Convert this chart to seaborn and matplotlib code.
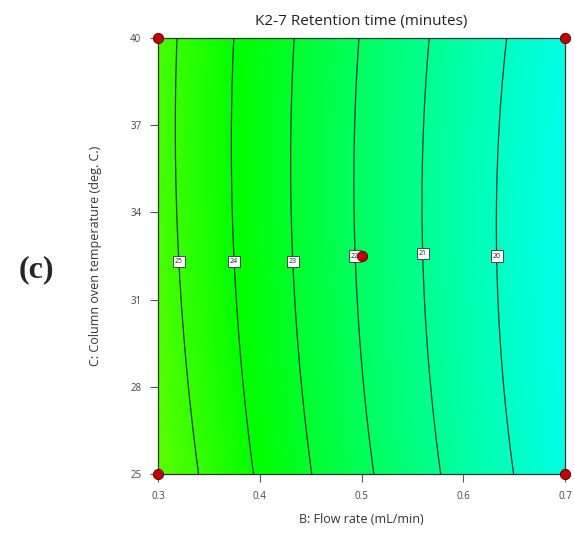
import numpy as np
import pandas as pd
import matplotlib
matplotlib.use("Agg")
import matplotlib.pyplot as plt
from matplotlib.colors import LinearSegmentedColormap, hsv_to_rgb
import seaborn as sns

# Contour levels of retention time (minutes) and where each level crosses
# the flow-rate axis at three column oven temperatures.
levels = [25, 24, 23, 22, 21, 20]
temps_read = [25.0, 32.3, 40.0]
flow_at_25C = [0.3393, 0.3943, 0.4513, 0.5123, 0.5781, 0.6489]
flow_at_32C = [0.3206, 0.3747, 0.4327, 0.4936, 0.5604, 0.6332]
flow_at_40C = [0.3187, 0.3747, 0.4346, 0.4956, 0.5673, 0.6430]

# Design points (factorial corners and centre point)
design_flow = [0.3, 0.7, 0.3, 0.7, 0.5]
design_temp = [40, 40, 25, 25, 32.5]

# Contour label anchor positions (flow, temperature)
label_flow = [0.3206, 0.3747, 0.4327, 0.4936, 0.5604, 0.6332]
label_temp = [32.3, 32.3, 32.3, 32.5, 32.6, 32.5]

x_ticks = [0.3, 0.4, 0.5, 0.6, 0.7]
y_ticks = [25, 28, 31, 34, 37, 40]

# Quadratic response-surface model fitted to the level crossings
B = np.concatenate([flow_at_25C, flow_at_32C, flow_at_40C])
C = np.repeat(temps_read, len(levels))
Y = np.tile(levels, len(temps_read)).astype(float)
def terms(b, c):
    return np.stack([np.ones_like(b), b, c, b * c, b ** 2, c ** 2], axis=-1)
coef, *_ = np.linalg.lstsq(terms(B, C), Y, rcond=None)

bg = np.linspace(0.3, 0.7, 300)
cg = np.linspace(25, 40, 300)
BB, CC = np.meshgrid(bg, cg)
RT = terms(BB, CC) @ coef

# Hue ramp from yellow-green (long retention) to cyan (short retention)
hues = np.linspace(174, 100, 64) / 360.0
cols = hsv_to_rgb(np.stack([hues, np.ones_like(hues), np.ones_like(hues)], axis=1))
cmap = LinearSegmentedColormap.from_list("rt", cols)

sns.set_style("white")
plt.rcParams["font.family"] = ["Open Sans", "DejaVu Sans"]

fig = plt.figure(figsize=(5.74, 5.4), dpi=100)
ax = fig.add_axes([158 / 574, 1 - 474 / 540, 407 / 574, 436 / 540])

ax.pcolormesh(BB, CC, RT, cmap=cmap, vmin=19.3, vmax=25.6, shading="gouraud",
              rasterized=True)
cs = ax.contour(BB, CC, RT, levels=sorted(levels), colors="#1f3d2a",
                linewidths=0.9)
for lv, lb, lt in zip(levels, label_flow, label_temp):
    ax.text(lb, lt, f"{lv}", fontsize=5, ha="center", va="center",
            color="#222222", zorder=5,
            bbox=dict(facecolor="white", edgecolor="#333333", linewidth=0.6,
                      boxstyle="square,pad=0.3"))

pts = pd.DataFrame({"flow": design_flow, "temp": design_temp})
sns.scatterplot(data=pts, x="flow", y="temp", ax=ax, color="#c00000",
                edgecolor="#5a0000", linewidth=0.6, s=55, zorder=10,
                clip_on=False)

ax.set_xlim(0.3, 0.7)
ax.set_ylim(25, 40)
ax.set_xticks(x_ticks)
ax.set_xticklabels([f"{t:.1f}" for t in x_ticks])
ax.set_yticks(y_ticks)
ax.set_yticklabels([str(t) for t in y_ticks])
ax.tick_params(axis="both", direction="out", length=6, width=0.8,
               color="#555555", labelsize=7, labelcolor="#444444", pad=6,
               bottom=True, left=True)
for s in ax.spines.values():
    s.set_color("#333333")
    s.set_linewidth(0.9)

ax.set_xlabel("B: Flow rate (mL/min)", fontsize=9, color="#333333", labelpad=8)
ax.set_ylabel("C: Column oven temperature (deg. C.)", fontsize=9,
              color="#333333", labelpad=20)
ax.set_title("K2-7 Retention time (minutes)", fontsize=11, color="#222222",
             pad=9)

fig.text(36 / 574, 1 - 270 / 540, "(c)", fontsize=23, fontweight="bold",
         family="Liberation Serif", ha="center", va="center")

fig.savefig("out.png", dpi=100)
